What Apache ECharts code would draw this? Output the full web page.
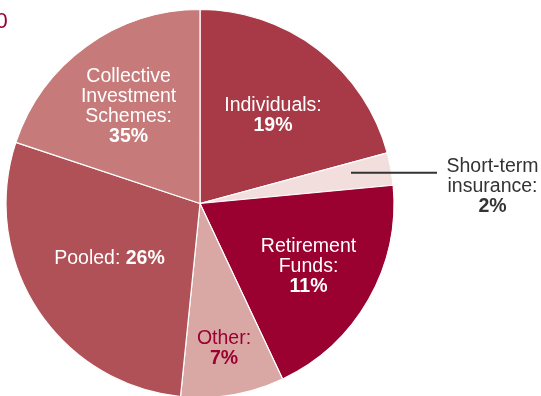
<!DOCTYPE html>
<html>
<head>
<meta charset="utf-8">
<script src="https://cdn.jsdelivr.net/npm/echarts@6/dist/echarts.min.js"></script>
<style>
html,body{margin:0;padding:0;background:#fff;}
#chart{width:541px;height:396px;}
</style>
</head>
<body>
<div id="chart"></div>
<script>
// Categories (clockwise from 12 o'clock)
const categories = ['Individuals', 'Short-term insurance', 'Retirement Funds', 'Other', 'Pooled', 'Collective Investment Schemes'];
// Slice sizes as drawn in the picture
const sliceValues = [20.8, 2.7, 19.5, 8.6, 28.5, 19.9];
// Percentages printed on the labels
const pctLabels = ['19%', '2%', '11%', '7%', '26%', '35%'];
// Label name text (with line breaks)
const nameLines = ['Individuals:', 'Short-term\ninsurance:', 'Retirement\nFunds:', 'Other:', 'Pooled:', 'Collective\nInvestment\nSchemes:'];

const colors = ['#a83a48', '#f2dedc', '#9a0030', '#d9a8a5', '#b05158', '#c67a7a'];
const labelColors = ['#fff', '#333', '#fff', '#9a0030', '#fff', '#fff'];
const labelPos = [[273, 116], [492.5, 187], [308.5, 267], [224, 348.5], [109.5, 258.5], [128.6, 106.5]];

const chart = echarts.init(document.getElementById('chart'), null, {renderer: 'canvas'});

const data = categories.map((c, i) => ({
  name: c,
  value: sliceValues[i],
  itemStyle: {color: colors[i]},
  label: {
    color: labelColors[i],
    rich: {b: {fontWeight: 'bold', fontSize: 19.5, lineHeight: 20, color: labelColors[i], fontFamily: 'Liberation Sans, Arial, sans-serif'}}
  }
}));

chart.setOption({
  animation: false,
  backgroundColor: '#fff',
  graphic: [{
    type: 'text',
    left: -4.5,
    top: 11,
    style: {text: '0', fontSize: 22, fill: '#9a0030', fontFamily: 'Liberation Sans, Arial, sans-serif'}
  }, {
    type: 'line',
    z: 100,
    shape: {x1: 351, y1: 172.7, x2: 437, y2: 172.7},
    style: {stroke: '#333', lineWidth: 2}
  }],
  series: [{
    type: 'pie',
    center: [200, 203.5],
    radius: [0, 194],
    startAngle: 90,
    clockwise: true,
    avoidLabelOverlap: false,
    itemStyle: {borderColor: '#fff', borderWidth: 1.2},
    label: {
      show: true,
      position: 'inside',
      fontSize: 19.5,
      lineHeight: 20,
      fontFamily: 'Liberation Sans, Arial, sans-serif',
      align: 'center',
      textBorderWidth: 0,
      formatter: function (p) {
        const i = p.dataIndex;
        const sep = (i === 4) ? ' ' : '\n';
        return nameLines[i] + sep + '{b|' + pctLabels[i] + '}';
      }
    },
    labelLine: {show: false},
    labelLayout: function (params) {
      const p = labelPos[params.dataIndex];
      return {x: p[0], y: p[1], align: 'center', verticalAlign: 'middle'};
    },
    emphasis: {disabled: true},
    data: data
  }]
});
</script>
</body>
</html>
